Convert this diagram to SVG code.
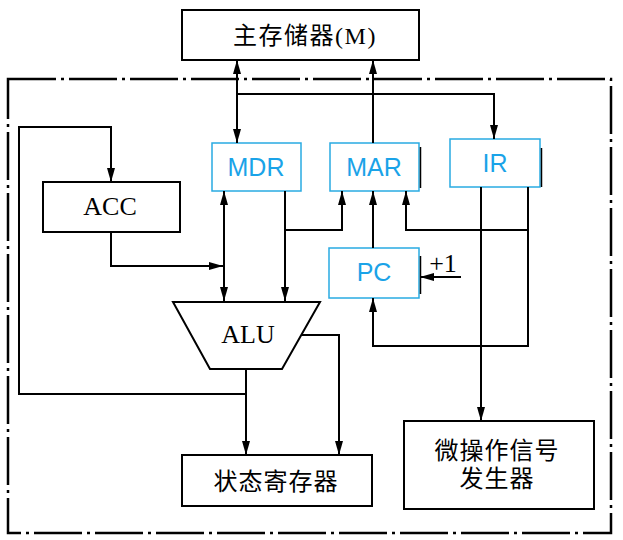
<svg xmlns="http://www.w3.org/2000/svg" width="623" height="540" viewBox="0 0 623 540">
<style>
.box{fill:#fff;stroke:#000;stroke-width:2}
.reg{fill:#fff;stroke:#29abe2;stroke-width:1.5}
.edge{stroke:#000;stroke-width:1.5}
.cn{font-family:"Liberation Serif","Noto Sans CJK SC",serif;font-size:24px;fill:#000;text-anchor:middle;dominant-baseline:central}
.en{font-family:"Liberation Serif",serif;font-size:26px;fill:#000;text-anchor:middle;dominant-baseline:central}
.rt{font-family:"Liberation Sans",Arial,sans-serif;font-size:25px;fill:#1aa3e8;text-anchor:middle;dominant-baseline:central}
.ln{fill:none;stroke:#000;stroke-width:2}
.frame{fill:none;stroke:#000;stroke-width:2.5;stroke-dasharray:48 5 3 5}
</style>
<defs>
<marker id="ar" viewBox="0 0 14 8" refX="14" refY="4" markerWidth="14" markerHeight="8" markerUnits="userSpaceOnUse" orient="auto-start-reverse">
<path d="M0,0 L14,4 L0,8 z" fill="#000"/>
</marker>
</defs>
<rect width="623" height="540" fill="#fff"/>
<rect class="frame" x="8" y="79" width="603" height="454"/>
<g id="mem"><rect class="box" x="182" y="10" width="237" height="50"/><text class="cn" x="305" y="36" font-size="25" letter-spacing="1.5">主存储器(M)</text></g>
<g id="acc"><rect class="box" x="43" y="182" width="137" height="50"/><text class="en" x="110" y="206">ACC</text></g>
<g id="mdr"><rect class="reg" x="212" y="143" width="89" height="48"/><text class="rt" x="256" y="167">MDR</text></g>
<g id="mar"><rect class="reg" x="330" y="143" width="89" height="48"/><line class="edge" x1="420.5" y1="147" x2="420.5" y2="188"/><text class="rt" x="374" y="167">MAR</text></g>
<g id="ir"><rect class="reg" x="450" y="139" width="90" height="48"/><line class="edge" x1="541.5" y1="148" x2="541.5" y2="187"/><text class="rt" x="495" y="163">IR</text></g>
<g id="pc"><rect class="reg" x="329" y="248" width="90" height="50"/><line class="edge" x1="420.5" y1="256" x2="420.5" y2="294"/><text class="rt" x="374" y="272">PC</text></g>
<g id="alu"><polygon class="box" points="173,302 320,302 282,369 210,369"/><text class="en" x="248" y="334">ALU</text></g>
<g id="status"><rect class="box" x="182" y="455" width="190" height="51"/><text class="cn" x="276" y="482" font-size="25" letter-spacing="1">状态寄存器</text></g>
<g id="micro"><rect class="box" x="404" y="421" width="190" height="88"/><text class="cn" x="497" y="451" font-size="25" letter-spacing="1">微操作信号</text><text class="cn" x="497" y="479" font-size="25" letter-spacing="1">发生器</text></g>
<g id="plus1"><text class="en" x="443" y="263">+1</text></g>
<g id="connectors">
<path class="ln" d="M237,60 L237,143" marker-start="url(#ar)" marker-end="url(#ar)"/>
<path class="ln" d="M237,94 L494,94 L494,139" marker-end="url(#ar)"/>
<path class="ln" d="M373,143 L373,60" marker-end="url(#ar)"/>
<path class="ln" d="M224,191 L224,301" marker-start="url(#ar)" marker-end="url(#ar)"/>
<path class="ln" d="M285,191 L285,301" marker-end="url(#ar)"/>
<path class="ln" d="M285,230 L342,230 L342,191" marker-end="url(#ar)"/>
<path class="ln" d="M373,248 L373,191" marker-end="url(#ar)"/>
<path class="ln" d="M528,187 L528,230 L406,230 L406,191" marker-end="url(#ar)"/>
<path class="ln" d="M528,230 L528,346 L373,346 L373,298" marker-end="url(#ar)"/>
<path class="ln" d="M481,187 L481,421" marker-end="url(#ar)"/>
<path class="ln" d="M111,232 L111,266 L223,266" marker-end="url(#ar)"/>
<path class="ln" d="M461,277 L420,277" marker-end="url(#ar)"/>
<path class="ln" d="M246,369 L246,455" marker-end="url(#ar)"/>
<path class="ln" d="M302,335 L339,335 L339,455" marker-end="url(#ar)"/>
<path class="ln" d="M246,394 L19,394 L19,127 L111,127 L111,182" marker-end="url(#ar)"/>
</g>
</svg>
